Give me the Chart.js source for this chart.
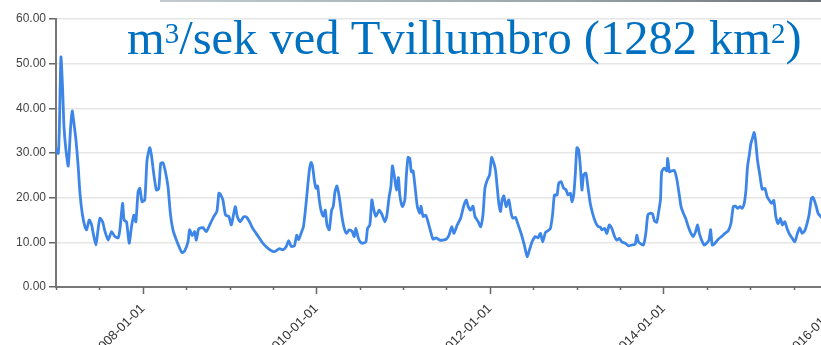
<!DOCTYPE html>
<html>
<head>
<meta charset="utf-8">
<script src="https://cdn.jsdelivr.net/npm/chart.js@4.4.1/dist/chart.umd.min.js"></script>
<style>
    body { margin: 0; width: 821px; height: 345px; overflow: hidden; background: #fff; position: relative; }
    #ramme { position: absolute; left: 0; top: 0; width: 862px; height: 345px; }
    #tittel {
        position: absolute; left: 127px; top: 14px;
        font-family: 'Liberation Serif', 'Times New Roman', serif;
        font-size: 48.5px; line-height: 48px; color: #0070c0; white-space: nowrap;
    }
    #tittel sup { font-size: 29px; vertical-align: 11px; line-height: 0; }
    #stripe { position: absolute; left: 160px; top: 0; width: 661px; height: 2px; background: linear-gradient(to right, #c3cbcf, #9aa5aa 60%, #6b7075); }
</style>
</head>
<body>
<div id="stripe"></div>
<div id="ramme"><canvas id="vannChart"></canvas></div>
<div id="tittel">m<sup>3</sup>/sek ved Tvillumbro (1282 km<sup>2</sup>)</div>

<script>
// tid i desimalår, vannføring i m3/sek
const tid = [
    2007.000, 2007.026, 2007.038, 2007.057, 2007.077, 2007.092, 2007.115, 2007.141, 2007.169, 2007.187,
    2007.207, 2007.230, 2007.256, 2007.276, 2007.302, 2007.333, 2007.353, 2007.383, 2007.410, 2007.429,
    2007.460, 2007.479, 2007.506, 2007.537, 2007.563, 2007.601, 2007.640, 2007.678, 2007.716, 2007.736,
    2007.767, 2007.785, 2007.813, 2007.843, 2007.870, 2007.897, 2007.920, 2007.946, 2007.966, 2007.992,
    2008.023, 2008.049, 2008.080, 2008.100, 2008.126, 2008.157, 2008.184, 2008.207, 2008.233, 2008.261,
    2008.291, 2008.318, 2008.348, 2008.387, 2008.425, 2008.452, 2008.483, 2008.521, 2008.540, 2008.571,
    2008.598, 2008.617, 2008.644, 2008.693, 2008.732, 2008.778, 2008.816, 2008.854, 2008.877, 2008.893,
    2008.923, 2008.954, 2008.992,
    2009.020, 2009.066, 2009.089, 2009.123, 2009.161, 2009.192, 2009.230, 2009.268, 2009.307, 2009.345,
    2009.383, 2009.422, 2009.468, 2009.517, 2009.575, 2009.613, 2009.652, 2009.682, 2009.709, 2009.747,
    2009.774, 2009.797, 2009.824, 2009.851, 2009.874, 2009.900, 2009.920, 2009.939, 2009.957, 2009.977,
    2009.997,
    2010.015, 2010.034, 2010.054, 2010.080, 2010.103, 2010.123, 2010.149, 2010.176, 2010.195, 2010.215,
    2010.238, 2010.264, 2010.295, 2010.322, 2010.348, 2010.379, 2010.410, 2010.437, 2010.456, 2010.483,
    2010.506, 2010.532, 2010.571, 2010.590, 2010.617, 2010.640, 2010.659, 2010.686, 2010.724, 2010.755,
    2010.790, 2010.813, 2010.839, 2010.859, 2010.877, 2010.900, 2010.923, 2010.946, 2010.962, 2010.992,
    2011.020, 2011.038, 2011.057, 2011.077, 2011.095, 2011.115, 2011.138, 2011.164, 2011.192, 2011.207,
    2011.230, 2011.261, 2011.287, 2011.318, 2011.345, 2011.383, 2011.422, 2011.460, 2011.498, 2011.529,
    2011.560, 2011.586, 2011.624, 2011.663, 2011.701, 2011.728, 2011.751, 2011.778, 2011.805, 2011.828,
    2011.866, 2011.893, 2011.920, 2011.943, 2011.969, 2011.997,
    2012.020, 2012.046, 2012.066, 2012.084, 2012.103, 2012.123, 2012.141, 2012.161, 2012.187, 2012.218,
    2012.245, 2012.264, 2012.295, 2012.314, 2012.341, 2012.371, 2012.402, 2012.429, 2012.456, 2012.486,
    2012.525, 2012.555, 2012.583, 2012.609, 2012.640, 2012.670, 2012.698, 2012.724, 2012.744, 2012.774,
    2012.793, 2012.820, 2012.851, 2012.877, 2012.900, 2012.928, 2012.946, 2012.966, 2012.985,
    2013.003, 2013.023, 2013.043, 2013.061, 2013.080, 2013.107, 2013.130, 2013.157, 2013.184, 2013.215,
    2013.245, 2013.272, 2013.291, 2013.322, 2013.348, 2013.376, 2013.406, 2013.437, 2013.463, 2013.491,
    2013.521, 2013.560, 2013.598, 2013.636, 2013.675, 2013.693, 2013.713, 2013.744, 2013.770, 2013.797,
    2013.820, 2013.847, 2013.874, 2013.897, 2013.923, 2013.943, 2013.966, 2013.980,
    2014.011, 2014.038, 2014.049, 2014.069, 2014.095, 2014.126, 2014.153, 2014.180, 2014.203, 2014.230,
    2014.256, 2014.287, 2014.318, 2014.345, 2014.371, 2014.394, 2014.414, 2014.440, 2014.471, 2014.498,
    2014.525, 2014.544, 2014.563, 2014.594, 2014.632, 2014.670, 2014.709, 2014.747, 2014.778, 2014.805,
    2014.831, 2014.854, 2014.882, 2014.908, 2014.931, 2014.951, 2014.969, 2014.989,
    2015.008, 2015.026, 2015.046, 2015.061, 2015.084, 2015.111, 2015.138, 2015.169, 2015.195, 2015.218,
    2015.245, 2015.272, 2015.295, 2015.322, 2015.348, 2015.371, 2015.399, 2015.425, 2015.448, 2015.475,
    2015.514, 2015.544, 2015.571, 2015.598, 2015.629, 2015.655, 2015.678, 2015.705, 2015.724, 2015.744,
    2015.762, 2015.782, 2015.828
];

const vannforing = [
    31.0, 29.9, 35.1, 51.5, 44.0, 35.9, 30.6, 27.1, 35.9, 39.4,
    36.6, 32.9, 26.9, 21.0, 16.5, 13.5, 12.8, 15.0, 13.9, 12.0,
    9.4, 12.0, 15.4, 14.6, 12.5, 10.5, 12.4, 11.3, 11.0, 12.8,
    18.7, 15.0, 14.6, 9.8, 13.5, 16.1, 14.6, 21.3, 22.1, 19.1,
    19.5, 28.4, 31.2, 29.5, 25.4, 21.7, 22.0, 27.7, 27.8, 25.8,
    22.4, 16.5, 12.8, 10.5, 8.7, 7.7, 8.1, 10.1, 12.8, 11.5,
    12.4, 10.5, 13.0, 13.3, 12.4, 14.2, 15.7, 16.9, 21.0, 20.8,
    19.5, 16.1, 15.8,
    13.9, 18.0, 15.8, 14.6, 15.7, 15.7, 14.6, 13.1, 12.0, 10.9,
    9.8, 9.0, 8.3, 7.9, 8.6, 8.3, 9.0, 10.4, 9.1, 9.2,
    11.6, 10.6, 12.0, 13.5, 17.2, 22.4, 26.2, 27.9, 27.0, 23.9,
    22.1,
    22.6, 19.5, 17.2, 15.8, 17.2, 13.9, 12.8, 17.2, 18.0, 21.3,
    22.6, 20.2, 15.8, 13.1, 12.0, 12.8, 12.5, 11.3, 13.1, 11.0,
    10.1, 9.8, 10.1, 13.1, 13.9, 19.5, 17.6, 15.8, 17.2, 16.3,
    14.6, 16.0, 20.2, 22.4, 27.1, 24.7, 21.7, 24.5, 20.6, 18.0,
    19.5, 25.1, 29.0, 28.8, 25.8, 26.0, 22.4, 18.0, 16.5, 18.1,
    15.8, 16.1, 14.6, 12.4, 10.7, 11.0, 10.5, 10.5, 10.7, 11.6,
    13.5, 12.0, 13.9, 15.4, 18.3, 19.5, 18.0, 17.2, 18.1, 15.8,
    14.6, 13.5, 16.1, 22.1, 23.9, 25.1,
    29.0, 27.7, 26.0, 22.4, 18.7, 16.9, 19.5, 20.4, 18.0, 19.5,
    16.5, 15.4, 15.6, 14.6, 13.1, 11.3, 9.0, 6.8, 8.3, 10.1,
    11.3, 11.0, 12.0, 10.1, 12.2, 12.6, 13.1, 16.5, 20.6, 20.6,
    23.2, 23.6, 22.1, 21.8, 20.6, 21.0, 19.1, 20.6, 25.4,
    31.2, 30.7, 26.9, 21.7, 25.1, 25.5, 22.4, 18.7, 16.5, 14.6,
    13.6, 13.4, 12.8, 13.1, 12.0, 13.9, 13.1, 11.3, 10.5, 10.9,
    10.1, 9.8, 9.2, 9.4, 9.6, 11.6, 10.1, 9.6, 9.4, 12.0,
    16.1, 16.5, 16.4, 14.8, 14.5, 16.6, 19.5, 25.8,
    26.6, 26.0, 28.8, 25.8, 26.0, 26.1, 24.3, 21.0, 18.0, 16.5,
    15.4, 13.5, 12.0, 11.3, 12.4, 13.9, 12.0, 10.5, 9.4, 9.8,
    10.5, 12.8, 9.4, 9.8, 10.7, 11.3, 12.0, 12.6, 14.2, 18.0,
    18.1, 17.6, 18.0, 17.6, 18.7, 21.7, 26.9, 29.5,
    32.1, 33.3, 34.6, 33.0, 28.4, 25.1, 21.9, 22.1, 20.2, 19.5,
    18.7, 19.4, 15.8, 14.2, 15.4, 13.9, 14.6, 13.1, 12.0, 11.2,
    10.1, 12.0, 13.3, 12.0, 12.6, 14.2, 16.1, 19.8, 20.1, 19.1,
    18.0, 16.5, 15.5
];

// akse-merker: halvår, og etiketter annethvert år
const halvaar = [2007, 2007.5, 2008, 2008.5, 2009, 2009.5, 2010, 2010.5, 2011, 2011.5,
                 2012, 2012.5, 2013, 2013.5, 2014, 2014.5, 2015, 2015.5, 2016];
const tickEtiketter = ['2008-01-01', '2010-01-01', '2012-01-01', '2014-01-01', '2016-01-01'];
const etikettAar = tickEtiketter.map(t => parseInt(t));

const yTicks = [0, 10, 20, 30, 40, 50, 60];

const skrift = "'Liberation Sans', Arial, sans-serif";

// tegner tick-streker på x-aksen, lange på etikett-år
const aksemerker = {
    id: 'aksemerker',
    afterDraw(chart) {
        const xs = chart.scales.x;
        const c = chart.ctx;
        c.save();
        c.strokeStyle = '#666';
        c.lineWidth = 1.5;
        xs.ticks.forEach(t => {
            const px = Math.round(xs.getPixelForValue(t.value)) + 0.5;
            const len = etikettAar.includes(t.value) ? 7 : 3;
            c.beginPath();
            c.moveTo(px, xs.top);
            c.lineTo(px, xs.top + len);
            c.stroke();
        });
        c.restore();
    }
};

const punkter = tid.map((t, i) => ({ x: t, y: vannforing[i] }));
const ctx = document.getElementById('vannChart').getContext('2d');

new Chart(ctx, {
    type: 'line',
    data: {
        datasets: [{
            data: punkter,
            borderColor: '#3d86e8',
            borderWidth: 2.8,
            pointRadius: 0,
            tension: 0.2,
            fill: false
        }]
    },
    options: {
        responsive: true,
        maintainAspectRatio: false,
        animation: false,
        layout: { padding: { top: 19, right: 0, bottom: 0, left: 0 } },
        plugins: {
            legend: { display: false },
            tooltip: { enabled: false }
        },
        scales: {
            x: {
                type: 'linear',
                min: 2007,
                max: 2016,
                afterBuildTicks: s => { s.ticks = halvaar.map(v => ({ value: v })); },
                afterFit: s => { s.height = 58; },
                grid: { drawOnChartArea: false, drawTicks: false },
                border: { color: '#777', width: 2 },
                ticks: {
                    autoSkip: false,
                    minRotation: 45,
                    maxRotation: 45,
                    padding: 14,
                    color: '#333',
                    font: { family: skrift, size: 13 },
                    callback: v => {
                        const i = etikettAar.indexOf(v);
                        return i >= 0 ? tickEtiketter[i] : '';
                    }
                }
            },
            y: {
                min: 0,
                max: 60,
                afterBuildTicks: s => { s.ticks = yTicks.map(v => ({ value: v })); },
                afterFit: s => { s.width = 56; },
                grid: { color: '#e6e6e6', lineWidth: 1.5, tickLength: 7, tickColor: '#666' },
                border: { color: '#777', width: 2 },
                ticks: {
                    padding: 3,
                    color: '#444',
                    font: { family: skrift, size: 12 },
                    callback: v => v.toFixed(2)
                }
            }
        }
    },
    plugins: [aksemerker]
});
</script>
</body>
</html>
